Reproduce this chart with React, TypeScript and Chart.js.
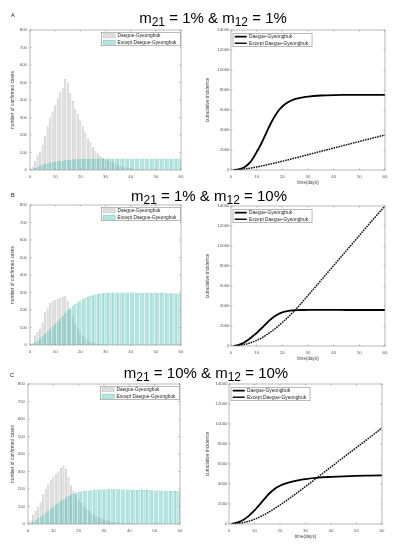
import React, { useEffect, useRef } from "react";
import { Chart, registerables } from "chart.js";
Chart.register(...registerables);

const FONT = "'Liberation Sans', Arial, Helvetica, sans-serif";

// ---------- data ----------
const DAYS = Array.from({ length: 60 }, (_, i) => i + 1);
const SERIES_NAMES = ["Daegue-Gyeongbuk", "Except Daegue-Gyeongbuk"];
const BAR_Y_TICKS = { min: 0, max: 800, step: 100 };
const LINE_Y_TICKS = { min: 0, max: 14000, step: 2000 };
const X_TICKS = { min: 0, max: 60, step: 10 };
const PANEL_LETTERS = ["A", "B", "C"];
const TITLE_M21 = ["1%", "1%", "10%"];
const TITLE_M12 = ["1%", "10%", "10%"];

// daily confirmed cases (bars)
const A_DAEGU = [20, 50, 85, 105, 145, 195, 250, 300, 335, 370, 410, 445, 470, 520, 500, 440, 395, 350, 320, 285, 250, 215, 180, 160, 130, 110, 95, 80, 70, 62, 55, 48, 40, 33, 27, 22, 18, 14, 11, 9, 7, 5, 4, 3, 2, 2, 1, 1, 1, 1, 0, 0, 0, 0, 0, 0, 0, 0, 0, 0];
const A_OTHER = [5, 12, 18, 24, 29, 33, 37, 41, 44, 47, 50, 52, 54, 56, 58, 59, 60, 61, 62, 63, 63, 64, 64, 64, 65, 65, 65, 65, 65, 65, 65, 65, 65, 65, 65, 65, 65, 65, 65, 65, 65, 65, 65, 65, 65, 65, 65, 65, 65, 65, 65, 65, 65, 65, 65, 65, 65, 65, 65, 65];
const B_DAEGU = [15, 55, 75, 95, 130, 190, 215, 240, 250, 258, 265, 270, 277, 278, 250, 200, 160, 125, 95, 70, 52, 38, 27, 19, 13, 9, 6, 4, 3, 2, 1, 1, 1, 1, 1, 0, 0, 0, 0, 0, 0, 0, 0, 0, 0, 0, 0, 0, 0, 0, 0, 0, 0, 0, 0, 0, 0, 0, 0, 0];
const B_OTHER = [5, 15, 25, 37, 50, 63, 77, 90, 105, 118, 135, 152, 168, 184, 198, 212, 224, 235, 245, 254, 262, 269, 275, 280, 284, 288, 291, 294, 296, 298, 299, 299, 300, 300, 300, 300, 300, 300, 300, 300, 300, 299, 299, 299, 299, 298, 298, 298, 298, 297, 297, 297, 297, 296, 296, 296, 296, 295, 295, 295];
const C_DAEGU = [20, 55, 75, 100, 125, 170, 200, 230, 250, 268, 285, 300, 320, 335, 315, 270, 220, 190, 165, 140, 120, 102, 87, 74, 62, 52, 44, 37, 31, 26, 21, 17, 14, 11, 9, 7, 6, 5, 4, 3, 2, 2, 1, 1, 1, 1, 1, 0, 0, 0, 0, 0, 0, 0, 0, 0, 0, 0, 0, 0];
const C_OTHER = [5, 13, 22, 32, 43, 54, 65, 76, 88, 99, 110, 121, 132, 142, 151, 160, 168, 174, 179, 183, 186, 188, 190, 192, 193, 194, 195, 196, 197, 197, 198, 198, 198, 198, 198, 198, 197, 197, 197, 197, 196, 196, 196, 195, 195, 194, 194, 193, 193, 192, 192, 191, 191, 190, 190, 189, 189, 188, 188, 187];

// cumulative incidence (lines)
const SOLID_DAYS = [1, 2, 3, 4, 5, 6, 7, 8, 9, 10, 11, 12, 13, 14, 15, 16, 17, 18, 19, 20, 22, 24, 26, 28, 30, 35, 40, 45, 50, 55, 60];
const A_SOLID = [10, 30, 70, 140, 250, 420, 650, 950, 1350, 1800, 2250, 2750, 3300, 3850, 4400, 4900, 5350, 5750, 6080, 6350, 6750, 7000, 7160, 7270, 7345, 7450, 7495, 7510, 7520, 7520, 7520];
const B_SOLID = [10, 50, 120, 210, 330, 490, 680, 880, 1090, 1300, 1550, 1800, 2060, 2320, 2560, 2780, 2970, 3130, 3260, 3360, 3490, 3560, 3590, 3600, 3605, 3605, 3605, 3600, 3600, 3600, 3600];
const C_SOLID = [20, 60, 130, 220, 330, 480, 660, 870, 1110, 1370, 1650, 1940, 2240, 2540, 2830, 3100, 3330, 3530, 3700, 3830, 4030, 4190, 4310, 4410, 4490, 4630, 4710, 4770, 4810, 4840, 4870];
const DOT_DAYS = [1, 5, 10, 15, 20, 25, 30, 35, 40, 45, 50, 55, 60];
const A_DOT = [5, 90, 300, 580, 880, 1200, 1530, 1860, 2190, 2520, 2850, 3180, 3500];
const B_DOT = [5, 140, 560, 1320, 2350, 3600, 5050, 6550, 8050, 9550, 11050, 12550, 14000];
const C_DOT = [5, 110, 470, 1100, 1900, 2800, 3750, 4720, 5700, 6680, 7650, 8620, 9600];

// ---------- layout / styles ----------
type Geo = { cl: number; ct: number; cw: number; pl: number; pt: number; pr: number; pb: number; xh: number };
const GEO: Record<string, Geo> = {
  aL: { cl: 0, ct: 24, cw: 190, pl: 30, pt: 30, pr: 181, pb: 170, xh: 13 },
  aR: { cl: 196, ct: 24, cw: 202, pl: 231, pt: 30, pr: 385, pb: 170, xh: 16 },
  bL: { cl: 0, ct: 199, cw: 190, pl: 30, pt: 205, pr: 181, pb: 345, xh: 13 },
  bR: { cl: 196, ct: 200, cw: 202, pl: 231, pt: 206, pr: 385, pb: 346, xh: 16 },
  cL: { cl: 0, ct: 378, cw: 190, pl: 28, pt: 384, pr: 180, pb: 524, xh: 13 },
  cR: { cl: 196, ct: 378, cw: 202, pl: 229, pt: 384, pr: 382, pb: 524, xh: 16 },
};
const TICK_COLOR = "#555";
const TITLE_COLOR = "#444";
const GRAY_FILL = "rgba(200,200,200,0.6)";
const GRAY_EDGE = "rgba(160,160,160,0.7)";
const TEAL_FILL = "rgba(90,200,190,0.45)";
const TEAL_EDGE = "rgba(60,175,165,0.75)";

function framePlugin(legendRight: boolean) {
  return {
    id: "frameAndLegend",
    afterLayout(chart: any) {
      const lg = chart.legend;
      if (!lg || !lg.legendHitBoxes || !lg.legendHitBoxes.length) return;
      const a = chart.chartArea;
      const pad = lg.options.labels.padding;
      const maxW = Math.max(...lg.legendHitBoxes.map((h: any) => h.width));
      const start = legendRight ? a.right - 4.5 - maxW : a.left + 3.7;
      lg.left = start - pad;
      lg.right = lg.left + lg.width;
      lg.top = a.top + (legendRight ? 1.5 : 2.5);
      lg._contentStart = start;
      lg._maxW = maxW;
    },
    afterDraw(chart: any) {
      const { ctx, chartArea: a } = chart;
      ctx.save();
      ctx.strokeStyle = "#9a9a9a";
      ctx.lineWidth = 0.7;
      ctx.strokeRect(a.left, a.top, a.right - a.left, a.bottom - a.top);
      const xs = chart.scales.x;
      const ys = chart.scales.y;
      ctx.beginPath();
      xs.ticks.forEach((t: any) => {
        const p = xs.getPixelForValue(t.value);
        ctx.moveTo(p, a.bottom); ctx.lineTo(p, a.bottom - 1.5);
        ctx.moveTo(p, a.top); ctx.lineTo(p, a.top + 1.5);
      });
      ys.ticks.forEach((t: any) => {
        const p = ys.getPixelForValue(t.value);
        ctx.moveTo(a.left, p); ctx.lineTo(a.left + 1.5, p);
        ctx.moveTo(a.right, p); ctx.lineTo(a.right - 1.5, p);
      });
      ctx.stroke();
      const lg = chart.legend;
      if (lg && lg.legendHitBoxes && lg.legendHitBoxes.length) {
        const hb = lg.legendHitBoxes;
        const x0 = lg._contentStart - 1.7;
        const x1 = lg._contentStart + lg._maxW + 4;
        const y0 = hb[0].top - 1;
        const y1 = hb[hb.length - 1].top + hb[hb.length - 1].height + 1;
        ctx.strokeStyle = "#8a8a8a";
        ctx.lineWidth = 0.6;
        ctx.strokeRect(x0, y0, x1 - x0, y1 - y0);
      }
      ctx.restore();
    },
  };
}

const plainTick = (v: any) => String(v);

function baseOptions(g: Geo, yt: { min: number; max: number; step: number }, yTitle: string, yTitlePad: number, xTitle: string | null, tickPadY: number) {
  const tickFont = { family: FONT, size: 4.3 };
  return {
    animation: false,
    responsive: false,
    maintainAspectRatio: false,
    layout: { padding: { left: 0, top: g.pt - g.ct, right: g.cl + g.cw - g.pr, bottom: 0 } },
    scales: {
      x: {
        type: "linear",
        min: X_TICKS.min,
        max: X_TICKS.max,
        offset: false,
        grid: { display: false, drawTicks: false, offset: false },
        border: { display: false },
        ticks: { stepSize: X_TICKS.step, font: tickFont, color: TICK_COLOR, padding: 4, maxRotation: 0, autoSkip: false, callback: plainTick },
        title: xTitle
          ? { display: true, text: xTitle, font: { family: FONT, size: 4.6 }, color: TITLE_COLOR, padding: { top: 0, bottom: 1 } }
          : { display: false },
        afterFit: (s: any) => { s.height = g.xh; },
      },
      y: {
        type: "linear",
        min: yt.min,
        max: yt.max,
        grid: { display: false, drawTicks: false },
        border: { display: false },
        ticks: { stepSize: yt.step, font: tickFont, color: TICK_COLOR, padding: tickPadY, autoSkip: false, callback: plainTick },
        title: { display: true, text: yTitle, font: { family: FONT, size: 4.8 }, color: TITLE_COLOR, padding: { top: yTitlePad, bottom: 0 } },
        afterFit: (s: any) => { s.width = g.pl - g.cl; },
      },
    },
  };
}

function barConfig(g: Geo, daegu: number[], other: number[]): any {
  const opts: any = baseOptions(g, BAR_Y_TICKS, "number of confirmed cases", 10, null, 3);
  opts.plugins = {
    tooltip: { enabled: false },
    legend: {
      position: "chartArea",
      align: "start",
      labels: {
        font: { family: FONT, size: 4.8 },
        color: "#222",
        boxWidth: 12,
        boxHeight: 4,
        padding: 1.8,
        sort: (a: any, b: any) => a.datasetIndex - b.datasetIndex,
      },
    },
  };
  return {
    type: "bar",
    data: {
      datasets: [
        { label: SERIES_NAMES[0], data: DAYS.map((d, i) => ({ x: d, y: daegu[i] })), backgroundColor: GRAY_FILL, borderColor: GRAY_EDGE, borderWidth: 0.5, order: 2, grouped: false, barPercentage: 0.85, categoryPercentage: 1 },
        { label: SERIES_NAMES[1], data: DAYS.map((d, i) => ({ x: d, y: other[i] })), backgroundColor: TEAL_FILL, borderColor: TEAL_EDGE, borderWidth: 0.5, order: 1, grouped: false, barPercentage: 0.85, categoryPercentage: 1 },
      ],
    },
    options: opts,
    plugins: [framePlugin(true)],
  };
}

function lineConfig(g: Geo, solid: number[], dot: number[]): any {
  const opts: any = baseOptions(g, LINE_Y_TICKS, "cumulative incidence", 9, "time(days)", 1.5);
  opts.plugins = {
    tooltip: { enabled: false },
    legend: {
      position: "chartArea",
      align: "start",
      labels: {
        font: { family: FONT, size: 4.8 },
        color: "#222",
        usePointStyle: true,
        pointStyle: "line",
        pointStyleWidth: 12,
        boxHeight: 4,
        padding: 1.8,
      },
    },
  };
  return {
    type: "line",
    data: {
      datasets: [
        { label: SERIES_NAMES[0], data: SOLID_DAYS.map((d, i) => ({ x: d, y: solid[i] })), borderColor: "#000", backgroundColor: "#000", borderWidth: 1.8, pointRadius: 0, cubicInterpolationMode: "monotone", fill: false },
        { label: SERIES_NAMES[1], data: DOT_DAYS.map((d, i) => ({ x: d, y: dot[i] })), borderColor: "#111", backgroundColor: "#111", borderWidth: 1.5, borderDash: [1.6, 0.9], pointRadius: 0, cubicInterpolationMode: "monotone", fill: false },
      ],
    },
    options: opts,
    plugins: [framePlugin(false)],
  };
}

function ChartCanvas({ g, build }: { g: Geo; build: () => any }) {
  const ref = useRef<HTMLCanvasElement>(null);
  const h = g.pb - g.ct + g.xh;
  useEffect(() => {
    const c = new Chart(ref.current as HTMLCanvasElement, build());
    return () => c.destroy();
  }, []);
  return (
    <canvas
      ref={ref}
      width={g.cw}
      height={h}
      style={{ position: "absolute", left: g.cl, top: g.ct, width: g.cw, height: h }}
    />
  );
}

const subStyle: React.CSSProperties = { fontSize: 12, position: "relative", top: 3 };

function Title({ idx, top, cx }: { idx: number; top: number; cx: number }) {
  return (
    <div
      style={{
        position: "absolute", left: cx - 120, width: 240, top, textAlign: "center",
        fontFamily: FONT, fontSize: 15, lineHeight: "15px", whiteSpace: "nowrap", color: "#000",
      }}
    >
      m<span style={subStyle}>21</span> = {TITLE_M21[idx]} &amp; m<span style={subStyle}>12</span> = {TITLE_M12[idx]}
    </div>
  );
}

function Letter({ idx, left, top }: { idx: number; left: number; top: number }) {
  return (
    <div style={{ position: "absolute", left, top, fontFamily: FONT, fontSize: 5.5, lineHeight: "6px", color: "#111" }}>
      {PANEL_LETTERS[idx]}
    </div>
  );
}

export default function App() {
  return (
    <div style={{ position: "fixed", left: 0, top: 0, width: 398, height: 550, background: "#fff", overflow: "hidden" }}>
      <ChartCanvas g={GEO.aL} build={() => barConfig(GEO.aL, A_DAEGU, A_OTHER)} />
      <ChartCanvas g={GEO.aR} build={() => lineConfig(GEO.aR, A_SOLID, A_DOT)} />
      <ChartCanvas g={GEO.bL} build={() => barConfig(GEO.bL, B_DAEGU, B_OTHER)} />
      <ChartCanvas g={GEO.bR} build={() => lineConfig(GEO.bR, B_SOLID, B_DOT)} />
      <ChartCanvas g={GEO.cL} build={() => barConfig(GEO.cL, C_DAEGU, C_OTHER)} />
      <ChartCanvas g={GEO.cR} build={() => lineConfig(GEO.cR, C_SOLID, C_DOT)} />
      <Title idx={0} top={10} cx={213} />
      <Title idx={1} top={188} cx={209} />
      <Title idx={2} top={365} cx={206} />
      <Letter idx={0} left={11} top={12} />
      <Letter idx={1} left={11} top={192} />
      <Letter idx={2} left={10} top={372} />
    </div>
  );
}
